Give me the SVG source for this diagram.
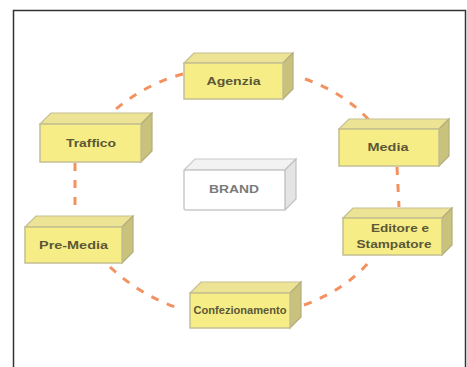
<svg xmlns="http://www.w3.org/2000/svg" width="467" height="367" viewBox="0 0 467 367">
  <style>
    .front { fill: #f7ed86; stroke: #c4bf92; stroke-width: 1.5; }
    .top { fill: #ece395; stroke: #c4bf92; stroke-width: 1.2; }
    .side { fill: #c9c27c; stroke: #b3ad7c; stroke-width: 1.2; }
    .bfront { fill: #ffffff; stroke: #c9c9c9; stroke-width: 1.5; }
    .btop { fill: #f2f2f2; stroke: #c9c9c9; stroke-width: 1.2; }
    .bside { fill: #e4e4e4; stroke: #c0c0c0; stroke-width: 1.2; }
    .lbl { font-family: "Liberation Sans", Arial, sans-serif; font-size: 10px; font-weight: bold; fill: #5b5838; text-anchor: middle; }
    .blbl { font-family: "Liberation Sans", Arial, sans-serif; font-size: 10px; font-weight: bold; fill: #7a7a7a; text-anchor: middle; }
    .link { fill: none; stroke: #f39260; stroke-width: 3; stroke-dasharray: 8 9; }
  </style>

  <!-- frame -->
  <rect x="13.5" y="10.5" width="452" height="370" fill="#ffffff" stroke="#333333" stroke-width="1.5"/>

  <!-- connectors -->
  <g id="connectors">
    <path class="link" d="M183,74 Q146,84 116,109"/>
    <path class="link" d="M305,79 Q343,92 369,120"/>
    <path class="link" d="M75,163 L75,213"/>
    <path class="link" d="M397,167 L399,207"/>
    <path class="link" d="M110,267 Q140,295 178,308"/>
    <path class="link" d="M304,305 Q345,290 369,262"/>
  </g>

  <!-- Agenzia -->
  <g id="agenzia">
    <polygon class="top" points="184,63 194,53 293,53 283,63"/>
    <polygon class="side" points="283,63 293,53 293,89 283,99"/>
    <rect class="front" x="184" y="63" width="99" height="36"/>
    <text class="lbl" x="233.5" y="85" textLength="54" lengthAdjust="spacingAndGlyphs">Agenzia</text>
  </g>

  <!-- Traffico -->
  <g id="traffico">
    <polygon class="top" points="40,124 51,113 152,113 141,124"/>
    <polygon class="side" points="141,124 152,113 152,151 141,162"/>
    <rect class="front" x="40" y="124" width="101" height="38"/>
    <text class="lbl" x="91" y="147" textLength="50" lengthAdjust="spacingAndGlyphs">Traffico</text>
  </g>

  <!-- Media -->
  <g id="media">
    <polygon class="top" points="339,129 349,119 449,119 439,129"/>
    <polygon class="side" points="439,129 449,119 449,156 439,166"/>
    <rect class="front" x="339" y="129" width="100" height="37"/>
    <text class="lbl" x="388" y="151" textLength="41" lengthAdjust="spacingAndGlyphs">Media</text>
  </g>

  <!-- BRAND -->
  <g id="brand">
    <polygon class="btop" points="184,170 195,159 296,159 285,170"/>
    <polygon class="bside" points="285,170 296,159 296,199 285,210"/>
    <rect class="bfront" x="184" y="170" width="101" height="40" rx="2"/>
    <text class="blbl" x="234" y="193" textLength="50" lengthAdjust="spacingAndGlyphs">BRAND</text>
  </g>

  <!-- Editore e Stampatore -->
  <g id="editore">
    <polygon class="top" points="343,218 353,208 452,208 442,218"/>
    <polygon class="side" points="442,218 452,208 452,245 442,255"/>
    <rect class="front" x="343" y="218" width="99" height="37"/>
    <text class="lbl" x="400" y="232" textLength="58" lengthAdjust="spacingAndGlyphs">Editore e</text>
    <text class="lbl" x="394" y="248" textLength="75" lengthAdjust="spacingAndGlyphs">Stampatore</text>
  </g>

  <!-- Pre-Media -->
  <g id="premedia">
    <polygon class="top" points="25,227 36,216 133,216 122,227"/>
    <polygon class="side" points="122,227 133,216 133,252 122,263"/>
    <rect class="front" x="25" y="227" width="97" height="36"/>
    <text class="lbl" x="73.5" y="249" textLength="69" lengthAdjust="spacingAndGlyphs">Pre-Media</text>
  </g>

  <!-- Confezionamento -->
  <g id="confezionamento">
    <polygon class="top" points="190,293 201,282 301,282 290,293"/>
    <polygon class="side" points="290,293 301,282 301,317 290,328"/>
    <rect class="front" x="190" y="293" width="100" height="35"/>
    <text class="lbl" x="240" y="314" textLength="93" lengthAdjust="spacingAndGlyphs">Confezionamento</text>
  </g>
</svg>
